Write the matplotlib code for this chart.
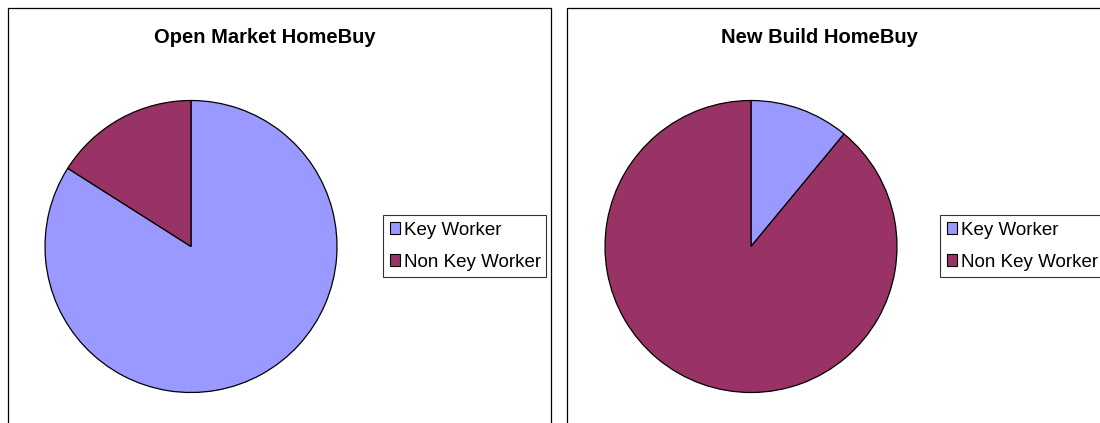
import matplotlib
matplotlib.use('Agg')
import matplotlib.pyplot as plt
from matplotlib.patches import Rectangle, Patch

# data (shares in percent)
labels = ['Key Worker', 'Non Key Worker']
colors = ['#9999FF', '#993366']
titles = ['Open Market HomeBuy', 'New Build HomeBuy']
open_market = [84, 16]
new_build = [11, 89]

W, H = 1100, 423
plt.rcParams['font.family'] = ['Liberation Sans', 'DejaVu Sans']

fig = plt.figure(figsize=(W / 100, H / 100), dpi=100)


def px_box(x0, y0, w, h):
    # pixel box (from top left) to figure fractions
    return [x0 / W, 1 - (y0 + h) / H, w / W, h / H]


def panel(frame_x, cx, title, title_x, values, legend_x):
    # chart frame, bottom and right run past the picture
    l, b, w, h = px_box(frame_x, 8, 543, 500)
    fig.patches.append(Rectangle((l, b), w, h, transform=fig.transFigure,
                                 fill=False, edgecolor='black', linewidth=0.9))
    fig.text(title_x / W, 1 - 43 / H, title, ha='center', va='baseline',
             fontsize=14.5, fontweight='bold')

    r = 146
    ax = fig.add_axes(px_box(cx - r, 246.5 - r, 2 * r, 2 * r))
    ax.pie(values, colors=colors, startangle=90, counterclock=False,
           wedgeprops={'edgecolor': 'black', 'linewidth': 0.9})
    ax.set_xlim(-1, 1)
    ax.set_ylim(-1, 1)
    ax.set_aspect('equal')
    ax.axis('off')

    handles = [Patch(facecolor=c, edgecolor='black', linewidth=0.8) for c in colors]
    lx, ly, lw, lh = px_box(legend_x, 215, 163, 63)
    leg = fig.legend(handles, labels, loc='upper left', mode='expand',
                     bbox_to_anchor=(lx, ly, lw, lh), bbox_transform=fig.transFigure,
                     fontsize=13.5, frameon=True, fancybox=False, shadow=False,
                     handlelength=0.55, handleheight=0.55, handletextpad=0.22,
                     borderpad=0.35, labelspacing=0.8, borderaxespad=0)
    leg.get_frame().set_edgecolor('black')
    leg.get_frame().set_linewidth(0.8)


panel(8, 191, titles[0], 265, open_market, 383)
panel(567, 751, titles[1], 819, new_build, 940)

fig.savefig('out.png', dpi=100, facecolor='white')
